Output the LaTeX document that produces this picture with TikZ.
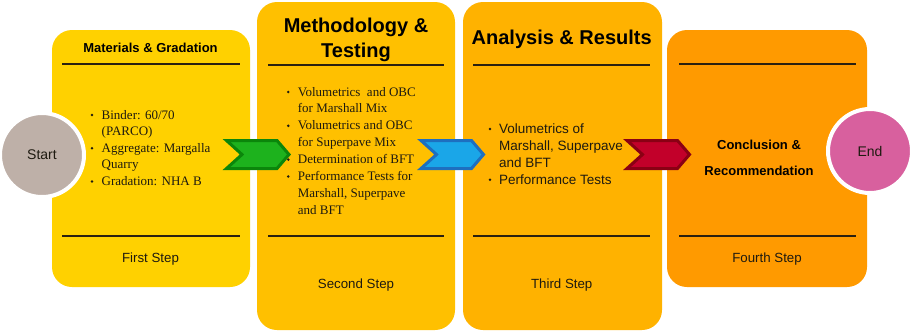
\documentclass[tikz,border=0pt]{standalone}
\usepackage{fontspec}
\setmainfont{Liberation Sans}
\newfontfamily\serfam{Liberation Serif}
\definecolor{boxa}{HTML}{FFD100}
\definecolor{boxb}{HTML}{FFC000}
\definecolor{boxc}{HTML}{FFB200}
\definecolor{boxd}{HTML}{FF9A00}
\definecolor{startc}{HTML}{BEB0A8}
\definecolor{endc}{HTML}{D8609E}
\definecolor{txt}{HTML}{1E1A10}
\definecolor{rulec}{HTML}{2A2010}
\definecolor{grf}{HTML}{1DB21D}
\definecolor{grd}{HTML}{0B860B}
\definecolor{blf}{HTML}{1AA6E8}
\definecolor{bld}{HTML}{1D6FC0}
\definecolor{rdf}{HTML}{C2002A}
\definecolor{rdd}{HTML}{8A0014}
\begin{document}
\begin{tikzpicture}[x=1pt,y=-1pt,
  stepbox/.style={rectangle, rounded corners=20pt, inner sep=0, draw=none},
  hline/.style={draw=rulec, line width=1.8pt},
  ttl/.style={font=\bfseries\fontsize{13}{15}\selectfont, anchor=base, inner sep=0, text=black},
  big/.style={font=\bfseries\fontsize{20}{22}\selectfont, anchor=base, inner sep=0, text=black},
  stp/.style={font=\fontsize{13.3}{15}\selectfont, anchor=base, inner sep=0, text=txt},
  tm/.style={font=\serfam\fontsize{13}{15}\selectfont, anchor=base west, inner sep=0, text=txt},
  ar/.style={font=\fontsize{13.5}{15}\selectfont, anchor=base west, inner sep=0, text=txt},
  bl/.style={circle, fill=txt, inner sep=0, minimum size=2.8pt},
  chev/.style={line width=3pt, line join=miter},
  endpt/.style={circle, draw=white, line width=4pt, minimum size=84pt, inner sep=0,
     font=\fontsize{14}{16}\selectfont, text=txt}
]
\useasboundingbox (0,0) rectangle (913,333);

% step boxes
\node[stepbox, fill=boxa, minimum width=198pt, minimum height=257pt] (s1) at (151,158.5) {};
\node[stepbox, fill=boxb, minimum width=198pt, minimum height=328pt] (s2) at (356,166) {};
\node[stepbox, fill=boxc, minimum width=199pt, minimum height=328pt] (s3) at (562.5,166) {};
\node[stepbox, fill=boxd, minimum width=200pt, minimum height=257pt] (s4) at (767,158.5) {};

% rules
\draw[hline] (62,64) -- (240,64);
\draw[hline] (62,236) -- (240,236);
\draw[hline] (268,65) -- (444,65);
\draw[hline] (268,236) -- (444,236);
\draw[hline] (473,65) -- (650,65);
\draw[hline] (473,236) -- (650,236);
\draw[hline] (679,64) -- (856,64);
\draw[hline] (679,236) -- (856,236);

% titles
\node[ttl] (t1) at (150.5,52) {Materials \& Gradation};
\node[big] (t2a) at (356,32) {Methodology \&};
\node[big] (t2b) at (356,57) {Testing};
\node[big] (t3) at (561.7,44.3) {Analysis \& Results};
\node[ttl] (t4a) at (759,149.3) {Conclusion \&};
\node[ttl] (t4b) at (759,175) {Recommendation};

% step labels
\node[stp] (f1) at (150.5,262.5) {First Step};
\node[stp] (f2) at (356,288.3) {Second Step};
\node[stp] (f3) at (561.7,288.3) {Third Step};
\node[stp] (f4) at (767,262.5) {Fourth Step};

% box 1 list
\node[bl] (b1a) at (92,115) {};
\node[tm] (l1a) at (101.5,119) {Binder: 60/70};
\node[tm] (l1b) at (101.5,135.6) {(PARCO)};
\node[bl] (b1b) at (92,148.2) {};
\node[tm] (l1c) at (101.5,152.2) {Aggregate: Margalla};
\node[tm] (l1d) at (101.5,168.8) {Quarry};
\node[bl] (b1c) at (92,181.4) {};
\node[tm] (l1e) at (101.5,185.4) {Gradation: NHA B};

% box 2 list
\node[bl] (b2a) at (288.3,92) {};
\node[tm] (l2a) at (297.7,96) {Volumetrics\ \ and OBC};
\node[tm] (l2b) at (297.7,112.9) {for Marshall Mix};
\node[bl] (b2b) at (288.3,125.8) {};
\node[tm] (l2c) at (297.7,129.8) {Volumetrics and OBC};
\node[tm] (l2d) at (297.7,146.7) {for Superpave Mix};
\node[bl] (b2c) at (288.3,159.6) {};
\node[tm] (l2e) at (297.7,163.6) {Determination of BFT};
\node[bl] (b2d) at (288.3,176.5) {};
\node[tm] (l2f) at (297.7,180.5) {Performance Tests for};
\node[tm] (l2g) at (297.7,197.4) {Marshall, Superpave};
\node[tm] (l2h) at (297.7,214.3) {and BFT};

% box 3 list
\node[bl] (b3a) at (490,129) {};
\node[ar] (l3a) at (499,133.3) {Volumetrics of};
\node[ar] (l3b) at (499,150.2) {Marshall, Superpave};
\node[ar] (l3c) at (499,167.1) {and BFT};
\node[bl] (b3b) at (490,179.7) {};
\node[ar] (l3d) at (499,184) {Performance Tests};

% chevrons between steps
\coordinate (a1) at (258,154.5);
\coordinate (a2) at (452.5,154.5);
\coordinate (a3) at (658.5,154.5);
\foreach \c/\f/\d in {a1/grf/grd, a2/blf/bld, a3/rdf/rdd}{
  \begin{scope}[shift={(\c)}]
    \draw[chev, fill=\f, draw=\d] (-31.5,-14) -- (19,-14) -- (31,0) -- (19,14)
      -- (-31.5,14) -- (-16,0) -- cycle;
  \end{scope}
}

% start / end
\node[endpt, fill=startc] (start) at (42,155) {Start};
\node[endpt, fill=endc] (end) at (870,151) {End};
\end{tikzpicture}
\end{document}
